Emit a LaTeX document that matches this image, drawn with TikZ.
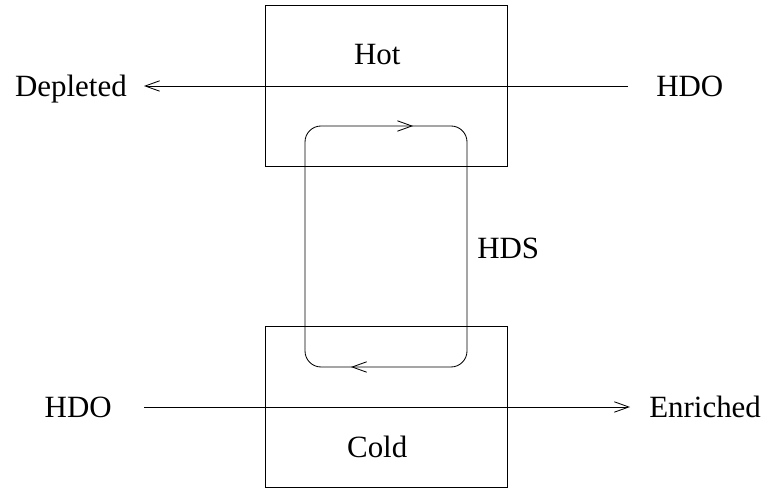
\documentclass[tikz,border=0pt]{standalone}
\usepackage{fontspec}
\setmainfont{Liberation Serif}
\usetikzlibrary{
  positioning,
  arrows.meta,
  decorations.markings
}

\begin{document}
\begin{tikzpicture}[
  box/.style={draw, line width=0.6pt, minimum width=6.05cm, minimum height=4.025cm,
              inner sep=0pt},
  lbl/.style={inner sep=0pt, text height=14.6pt, text depth=0pt,
              font=\fontsize{22}{26}\selectfont},
  arr/.style={-{Straight Barb[length=3.6mm, width=2.6mm, line width=0.6pt]}, line width=0.6pt},
  loop/.style={line width=0.6pt, rounded corners=0.4cm, postaction={decorate},
               decoration={markings,
                 mark=at position 5.23cm with {\arrow{Straight Barb[length=3.6mm, width=2.6mm, line width=0.6pt]}},
                 mark=at position 15.16cm with {\arrow{Straight Barb[length=3.6mm, width=2.6mm, line width=0.6pt]}}}},
]
  \useasboundingbox (0,0) rectangle (19.175,12.25);

  % Reservoirs
  \node[box] (hot) at (9.65, 10.11) {};
  \node[box] (cold) at (9.65, 2.075) {};
  \node[lbl] (hotlbl) at (9.43, 10.9) {Hot};
  \node[lbl] (coldlbl) at (9.43, 1.075) {Cold};

  % Circulating HDS
  \draw[loop] (7.625, 6) -- (7.625, 9.1) -- (11.675, 9.1) -- (11.675, 3.075)
    -- (7.625, 3.075) -- cycle;
  \node[lbl, anchor=west] (hds) at (11.925, 6.05) {HDS};

  % Water streams
  \node[lbl, anchor=west] (hdoin) at (16.4, 10.1) {HDO};
  \node[lbl, anchor=east] (depleted) at (3.175, 10.1) {Depleted};
  \node[lbl, anchor=east] (hdofeed) at (2.8, 2.075) {HDO};
  \node[lbl, anchor=west] (enriched) at (16.225, 2.075) {Enriched};

  \draw[arr, shorten <=0.7cm, shorten >=0.425cm] (hdoin.west) -- (depleted.east);
  \draw[arr, shorten <=0.8cm, shorten >=0.475cm] (hdofeed.east) -- (enriched.west);

\end{tikzpicture}
\end{document}
